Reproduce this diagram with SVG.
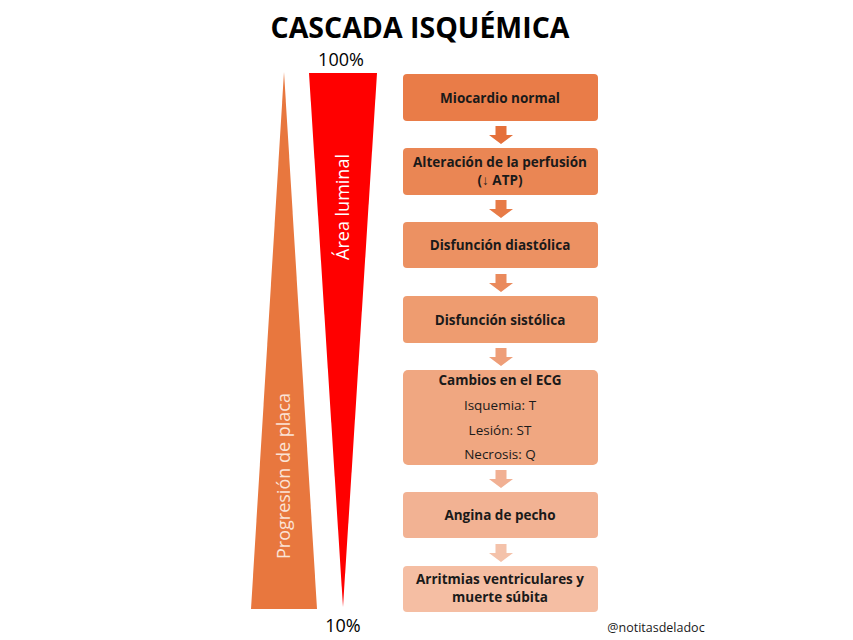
<svg xmlns="http://www.w3.org/2000/svg" width="853" height="640" viewBox="0 0 853 640">
<style>
.box{stroke:none}
.t{font-family:"Open Sans","Liberation Sans",sans-serif;font-size:13.5px;font-weight:700;fill:#1a1a1a;text-anchor:middle}
.n{font-family:"Open Sans","Liberation Sans",sans-serif;font-size:13.5px;fill:#1a1a1a;text-anchor:middle}
.lbl{font-family:"Open Sans","Liberation Sans",sans-serif;font-size:18px;text-anchor:middle}
</style>
<defs>
<path id="arr" d="M-5.5,0 H5.5 V9 H12 L0,18 L-12,9 H-5.5 Z"/>
</defs>
<rect width="853" height="640" fill="#ffffff"/>
<text x="420" y="38" font-family="Open Sans, Liberation Sans, sans-serif" font-size="28.5" font-weight="700" fill="#000" text-anchor="middle">CASCADA ISQUÉMICA</text>
<g id="placa">
<polygon points="284,72 317,609 251,609" fill="#E8773E"/>
<text class="lbl" fill="#FBE3D6" transform="translate(290,476) rotate(-90)">Progresión de placa</text>
</g>
<g id="luminal">
<polygon points="309,73 377,73 343,607" fill="#FF0000"/>
<text class="lbl" fill="#ffffff" transform="translate(349,207) rotate(-90)">Área luminal</text>
</g>
<text class="lbl" x="341" y="66" fill="#000">100%</text>
<text class="lbl" x="343" y="632" fill="#000">10%</text>
<g id="connectors">
<use href="#arr" transform="translate(501,126)" fill="#E5703A"/>
<use href="#arr" transform="translate(501,200)" fill="#E77B47"/>
<use href="#arr" transform="translate(501,274)" fill="#EA8A5C"/>
<use href="#arr" transform="translate(501,348)" fill="#EE9E78"/>
<use href="#arr" transform="translate(501,470)" fill="#F1B093"/>
<use href="#arr" transform="translate(501,544)" fill="#F4C2AA"/>
</g>
<g id="n1"><rect class="box" x="403" y="74" width="195" height="47" rx="4" fill="#E97C48"/><text class="t" x="500" y="103">Miocardio normal</text></g>
<g id="n2"><rect class="box" x="403" y="148" width="195" height="47" rx="4" fill="#EA8654"/><text class="t" x="500" y="167">Alteración de la perfusión</text><text class="t" x="500" y="185">(↓ ATP)</text></g>
<g id="n3"><rect class="box" x="403" y="222" width="195" height="46" rx="4" fill="#EC9162"/><text class="t" x="500" y="250">Disfunción diastólica</text></g>
<g id="n4"><rect class="box" x="403" y="296" width="195" height="47" rx="4" fill="#EE9C70"/><text class="t" x="500" y="325">Disfunción sistólica</text></g>
<g id="n5"><rect class="box" x="403" y="370" width="195" height="95" rx="5" fill="#F0A781"/><text class="t" x="500" y="385">Cambios en el ECG</text><text class="n" x="500" y="410">Isquemia: T</text><text class="n" x="500" y="435">Lesión: ST</text><text class="n" x="500" y="459">Necrosis: Q</text></g>
<g id="n6"><rect class="box" x="403" y="492" width="195" height="46" rx="4" fill="#F2B293"/><text class="t" x="500" y="520">Angina de pecho</text></g>
<g id="n7"><rect class="box" x="403" y="566" width="195" height="46" rx="4" fill="#F5BEA3"/><text class="t" x="500" y="584">Arritmias ventriculares y</text><text class="t" x="500" y="602">muerte súbita</text></g>
<text x="656" y="632" font-family="Open Sans, Liberation Sans, sans-serif" font-size="12.5" fill="#1a1a1a" text-anchor="middle">@notitasdeladoc</text>
</svg>
